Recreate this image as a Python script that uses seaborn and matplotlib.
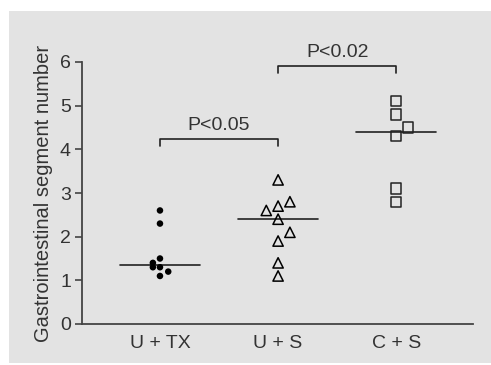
import numpy as np
import pandas as pd
import matplotlib
matplotlib.use('Agg')
import matplotlib.pyplot as plt
import seaborn as sns

# values
groups = ['U + TX', 'U + S', 'C + S']
u_tx = [2.6, 2.3, 1.5, 1.4, 1.3, 1.3, 1.2, 1.1]
u_tx_dodge = [0, 0, 0, -0.06, -0.06, 0, 0.07, 0]
u_s = [3.3, 2.8, 2.7, 2.6, 2.4, 2.1, 1.9, 1.4, 1.1]
u_s_dodge = [0, 0.1, 0, -0.1, 0, 0.1, 0, 0, 0]
c_s = [5.1, 4.8, 4.5, 4.3, 3.1, 2.8]
c_s_dodge = [0, 0, 0.1, 0, 0, 0]
p_labels = ['P<0.05', 'P<0.02']

rows = []
for i, (vals, dodge) in enumerate([(u_tx, u_tx_dodge), (u_s, u_s_dodge), (c_s, c_s_dodge)]):
    for v, d in zip(vals, dodge):
        rows.append({'group': groups[i], 'pos': i + d, 'value': v})
df = pd.DataFrame(rows)

sns.set_style('white')
plt.rcParams['font.family'] = ['Liberation Sans', 'DejaVu Sans']
txt = '#333333'
fs = 14

fig = plt.figure(figsize=(4.91, 3.65), dpi=100)
fig.patch.set_facecolor('white')
bg = plt.Rectangle((9 / 491, 2 / 365), 482 / 491, 352 / 365, transform=fig.transFigure,
                   facecolor='#e3e3e3', edgecolor='none', zorder=-10)
fig.patches.append(bg)

ax = fig.add_axes([82 / 491, 1 - 324 / 365, (473 - 82) / 491, (324 - 62) / 365])
ax.set_facecolor('none')
ax.set_zorder(5)

sub = df[df.group == groups[0]]
sns.scatterplot(x=sub.pos, y=sub.value, ax=ax, marker='o', s=22, color='black',
                edgecolor='none', zorder=3)
sub = df[df.group == groups[1]]
sns.scatterplot(x=sub.pos, y=sub.value, ax=ax, marker='^', s=55, facecolor='none',
                edgecolor='black', linewidth=1.1, zorder=3)
sub = df[df.group == groups[2]]
sns.scatterplot(x=sub.pos, y=sub.value, ax=ax, marker='s', s=55, facecolor='none',
                edgecolor='#222222', linewidth=1.1, zorder=3)

# median lines
for i, g in enumerate(groups):
    m = np.median(df[df.group == g].value)
    ax.plot([i - 0.34, i + 0.34], [m, m], color='#222222', lw=1.2, zorder=2)

# significance brackets
for (a, b, y, label) in [(0, 1, 4.23, p_labels[0]), (1, 2, 5.9, p_labels[1])]:
    ax.plot([a, a, b, b], [y - 0.16, y, y, y - 0.16], color='#222222', lw=1.2,
            clip_on=False)
    ax.text((a + b) / 2, y + 0.12, label, ha='center', va='bottom', fontsize=fs,
            color=txt, clip_on=False)

ax.set_xlim(-0.66, 2.65)
ax.set_ylim(0, 6)
ax.set_xticks(range(3))
ax.set_xticklabels(groups)
ax.set_yticks(range(7))
ax.set_xlabel('')
ax.set_ylabel('Gastrointestinal segment number', fontsize=14.5, color=txt, labelpad=5)
ax.tick_params(axis='y', length=5, width=1.2, color='#444444', labelsize=fs,
               labelcolor=txt, pad=3, left=True)
ax.tick_params(axis='x', length=0, labelsize=fs, labelcolor=txt, pad=8)
sns.despine(ax=ax)
for s in ['left', 'bottom']:
    ax.spines[s].set_color('#444444')
    ax.spines[s].set_linewidth(1.3)

fig.savefig('out.png', dpi=100, facecolor=fig.get_facecolor())
